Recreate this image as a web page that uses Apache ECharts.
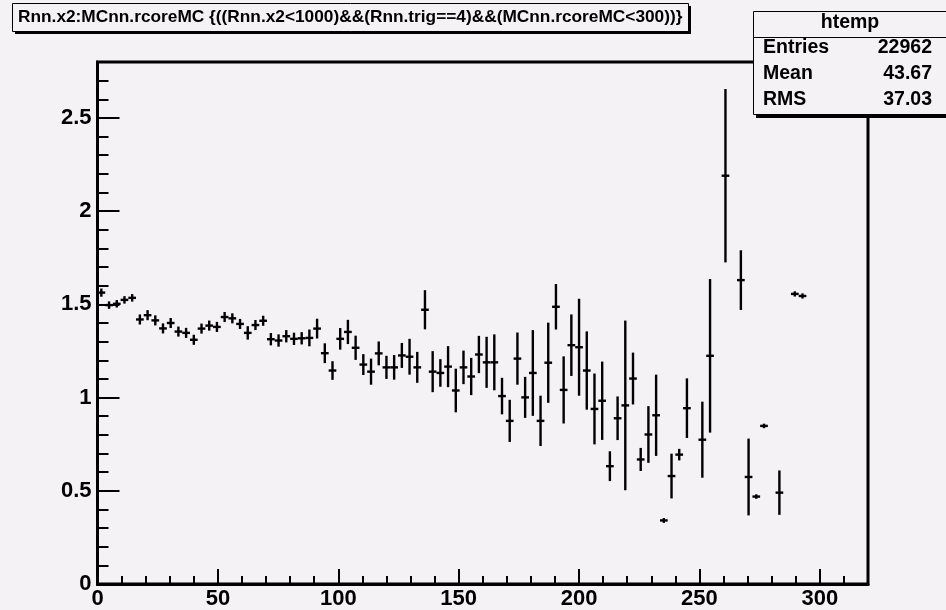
<!DOCTYPE html>
<html>
<head>
<meta charset="utf-8">
<script src="https://cdn.jsdelivr.net/npm/echarts@6/dist/echarts.min.js"></script>
<style>
  html, body { margin: 0; padding: 0; background: #f5f2f5; }
  #chart { width: 946px; height: 610px; }
</style>
</head>
<body>
<div id="chart"></div>
<script>
// Profile of Rnn.x2 versus MCnn.rcoreMC: 100 bins from 0 to 320
const binLow = 0;
const binHigh = 320;
const binCount = 100;

// Mean of Rnn.x2 in each bin (null = empty bin)
const binMeans = [
  1.563, 1.496, 1.503, 1.524, 1.535, 1.419, 1.442, 1.414, 1.371, 1.400,
  1.354, 1.347, 1.310, 1.370, 1.386, 1.379, 1.432, 1.425, 1.395, 1.347,
  1.389, 1.412, 1.313, 1.306, 1.329, 1.315, 1.318, 1.320, 1.370, 1.238,
  1.145, 1.315, 1.352, 1.267, 1.177, 1.139, 1.237, 1.162, 1.162, 1.226,
  1.219, 1.162, 1.471, 1.139, 1.132, 1.166, 1.038, 1.162, 1.113, 1.231,
  1.189, 1.189, 1.008, 0.875, 1.209, 1.001, 1.132, 0.875, 1.187, 1.487,
  1.041, 1.281, 1.270, 1.145, 0.939, 0.983, 0.632, 0.889, 0.958, 1.102,
  0.668, 0.802, 0.905, 0.341, 0.579, 0.694, 0.943, null, 0.774, 1.224,
  null, 2.190, null, 1.630, 0.574, 0.469, 0.848, null, 0.490, null,
  1.556, 1.545, null, null, null, null, null, null, null, null
];

// Error on the mean in each bin
const binErrors = [
  0.022, 0.020, 0.020, 0.020, 0.020, 0.027, 0.027, 0.027, 0.027, 0.027,
  0.027, 0.027, 0.027, 0.027, 0.027, 0.027, 0.027, 0.027, 0.027, 0.036,
  0.027, 0.027, 0.033, 0.033, 0.033, 0.033, 0.033, 0.045, 0.053, 0.053,
  0.050, 0.058, 0.065, 0.065, 0.056, 0.070, 0.064, 0.062, 0.066, 0.067,
  0.096, 0.083, 0.105, 0.110, 0.074, 0.110, 0.117, 0.090, 0.100, 0.100,
  0.137, 0.150, 0.098, 0.113, 0.140, 0.110, 0.230, 0.135, 0.215, 0.122,
  0.180, 0.165, 0.260, 0.210, 0.190, 0.210, 0.080, 0.117, 0.455, 0.139,
  0.062, 0.152, 0.218, 0.013, 0.120, 0.031, 0.160, null, 0.204, 0.412,
  null, 0.465, null, 0.160, 0.206, 0.012, 0.012, null, 0.119, null,
  0.014, 0.014, null, null, null, null, null, null, null, null
];

// Axis tick values
const xMajorStep = 50;
const xMinorStep = 10;
const yMax = 2.8;
const yMajorStep = 0.5;
const yMinorStep = 0.1;

// Title and statistics box texts
const titleText = 'Rnn.x2:MCnn.rcoreMC {((Rnn.x2<1000)&&(Rnn.trig==4)&&(MCnn.rcoreMC<300))}';
const statsName = 'htemp';
const statsLabels = ['Entries', 'Mean', 'RMS'];
const statsValues = ['22962', '43.67', '37.03'];

const FONT = '"Liberation Sans", Arial, Helvetica, sans-serif';
const BG = '#f5f2f5';
const binWidth = (binHigh - binLow) / binCount;

const points = [];
binMeans.forEach((v, i) => {
  if (v === null) return;
  points.push([binLow + binWidth * (i + 0.5), v, binErrors[i]]);
});

function renderErrorCross(params, api) {
  const x = api.value(0), y = api.value(1), e = api.value(2);
  const c = api.coord([x, y]);
  const top = api.coord([x, y + e]);
  const bot = api.coord([x, y - e]);
  const l = api.coord([x - binWidth / 2, y]);
  const r = api.coord([x + binWidth / 2, y]);
  const st = { stroke: '#000', lineWidth: 2.4 };
  return {
    type: 'group',
    children: [
      { type: 'line', shape: { x1: c[0], y1: top[1], x2: c[0], y2: bot[1] }, style: st },
      { type: 'line', shape: { x1: l[0], y1: c[1], x2: r[0], y2: c[1] }, style: st }
    ]
  };
}

const statsGraphics = [
  { type: 'rect', shape: { x: 756, y: 14, width: 200, height: 104 }, style: { fill: '#000' }, z: 100 },
  { type: 'rect', shape: { x: 753.5, y: 11.5, width: 200, height: 103 }, style: { fill: BG, stroke: '#000', lineWidth: 1 }, z: 101 },
  { type: 'line', shape: { x1: 753.5, y1: 37.5, x2: 946, y2: 37.5 }, style: { stroke: '#000', lineWidth: 1 }, z: 102 },
  { type: 'text', x: 850, y: 23, style: { text: statsName, font: 'bold 19.5px ' + FONT, fill: '#000', align: 'center', verticalAlign: 'middle' }, z: 103 }
];
statsLabels.forEach((lab, k) => {
  const yy = 48 + k * 26;
  statsGraphics.push({ type: 'text', x: 763, y: yy, style: { text: lab, font: 'bold 19.5px ' + FONT, fill: '#000', align: 'left', verticalAlign: 'middle' }, z: 103 });
  statsGraphics.push({ type: 'text', x: 932, y: yy, style: { text: statsValues[k], font: 'bold 19.5px ' + FONT, fill: '#000', align: 'right', verticalAlign: 'middle' }, z: 103 });
});

const titleGraphics = [
  { type: 'rect', shape: { x: 15, y: 6, width: 676, height: 28 }, style: { fill: '#000' }, z: 100 },
  { type: 'rect', shape: { x: 12.5, y: 3.5, width: 676, height: 28 }, style: { fill: BG, stroke: '#000', lineWidth: 1 }, z: 101 },
  { type: 'text', x: 18, y: 17, style: { text: titleText, font: 'bold 17.3px ' + FONT, fill: '#000', align: 'left', verticalAlign: 'middle' }, z: 103 }
];

const chart = echarts.init(document.getElementById('chart'), null, { renderer: 'canvas' });
chart.setOption({
  animation: false,
  backgroundColor: BG,
  grid: {
    left: 97.5, top: 62, width: 770.5, height: 524.5,
    show: true, borderColor: '#000', borderWidth: 3, backgroundColor: 'transparent'
  },
  xAxis: [
    {
      type: 'value', min: binLow, max: binHigh, interval: xMajorStep, position: 'bottom',
      axisLine: { show: true, lineStyle: { color: '#000', width: 3 } },
      axisTick: { show: true, inside: true, length: 15, lineStyle: { color: '#000', width: 2 } },
      axisLabel: { show: true, showMaxLabel: false, color: '#000', fontSize: 22, fontWeight: 'bold', fontFamily: FONT, margin: 4 },
      splitLine: { show: false }
    },
    {
      type: 'value', min: binLow, max: binHigh, interval: xMinorStep, position: 'bottom',
      axisLine: { show: false },
      axisTick: { show: true, inside: true, length: 8, lineStyle: { color: '#000', width: 2 } },
      axisLabel: { show: false },
      splitLine: { show: false }
    }
  ],
  yAxis: [
    {
      type: 'value', min: 0, max: yMax, interval: yMajorStep, position: 'left',
      axisLine: { show: true, lineStyle: { color: '#000', width: 3 } },
      axisTick: { show: true, inside: true, length: 22, lineStyle: { color: '#000', width: 2 } },
      axisLabel: { show: true, showMaxLabel: false, color: '#000', fontSize: 22, fontWeight: 'bold', fontFamily: FONT, margin: 6 },
      splitLine: { show: false }
    },
    {
      type: 'value', min: 0, max: yMax, interval: yMinorStep, position: 'left',
      axisLine: { show: false },
      axisTick: { show: true, inside: true, length: 11, lineStyle: { color: '#000', width: 2 } },
      axisLabel: { show: false },
      splitLine: { show: false }
    }
  ],
  series: [{
    type: 'custom',
    coordinateSystem: 'cartesian2d',
    xAxisIndex: 0,
    yAxisIndex: 0,
    renderItem: renderErrorCross,
    data: points,
    clip: true
  }],
  graphic: titleGraphics.concat(statsGraphics)
});
</script>
</body>
</html>
